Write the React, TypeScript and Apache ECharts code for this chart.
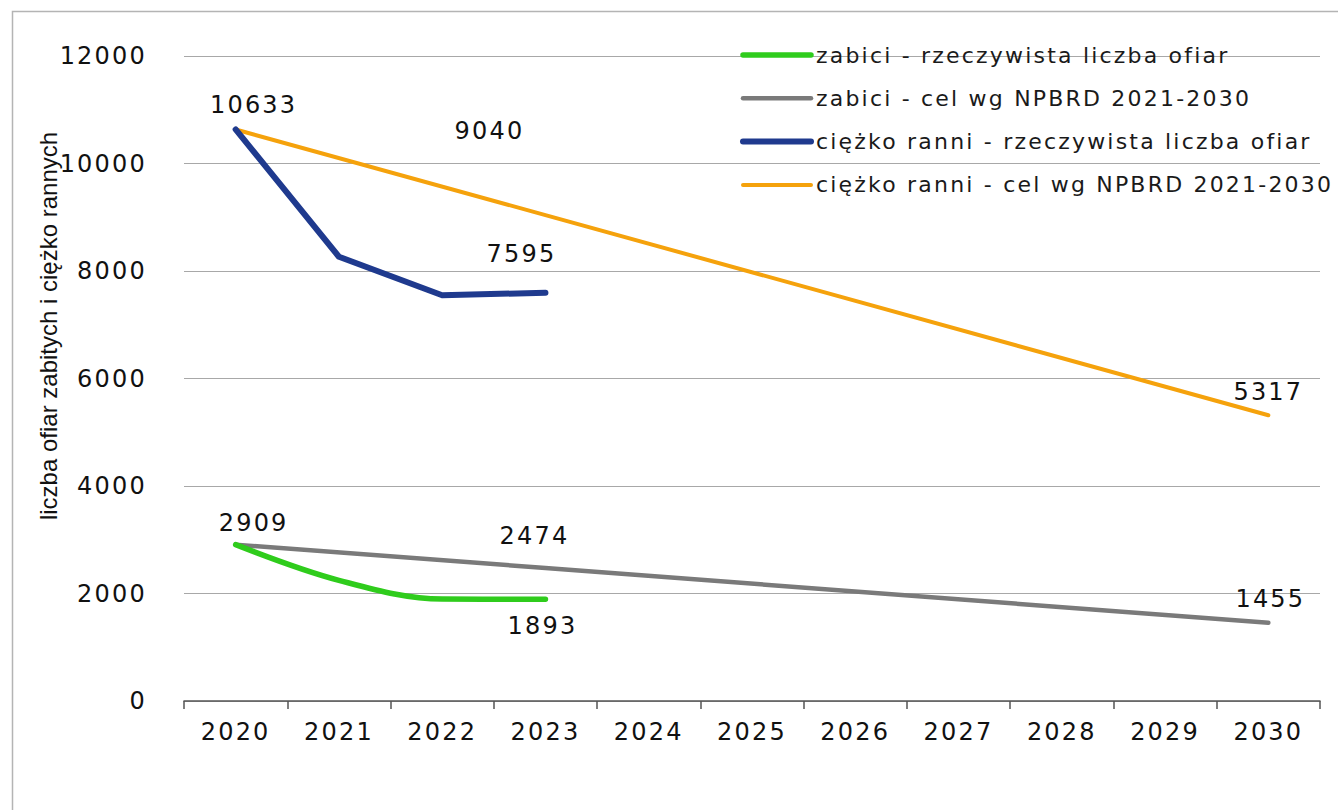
import React, { useEffect, useRef } from "react";
import * as echarts from "echarts";

const years = ["2020", "2021", "2022", "2023", "2024", "2025", "2026", "2027", "2028", "2029", "2030"];
const killedActual = [2909, 2245, 1896, 1893];
const killedTarget = [2909, null, null, 2474, null, null, null, null, null, null, 1455];
const injuredActual = [10633, 8265, 7550, 7595];
const injuredTarget = [10633, null, null, 9040, null, null, null, null, null, null, 5317];
const yTicks = { min: 0, max: 12000, interval: 2000 };

const seriesNames = {
  killedActual: "zabici - rzeczywista liczba ofiar",
  killedTarget: "zabici - cel wg NPBRD 2021-2030",
  injuredActual: "ciężko ranni - rzeczywista liczba ofiar",
  injuredTarget: "ciężko ranni - cel wg NPBRD 2021-2030",
};

// which points carry a value label, and where the label sits relative to the point
const labelPlacement: Record<string, Record<number, [number, number]>> = {
  killedActual: { 3: [-3, 27] },
  killedTarget: { 0: [18, -22], 3: [-11, -32], 10: [2, -24] },
  injuredActual: { 3: [-24, -39] },
  injuredTarget: { 0: [18, -24], 3: [-56, -84], 10: [0, -23] },
};

const styles = {
  killedActual: { color: "#2fcc1c", width: 5.5, smooth: 0.35 as any },
  killedTarget: { color: "#7a7a7a", width: 4.5, smooth: false as any },
  injuredActual: { color: "#1f3a8e", width: 6, smooth: false as any },
  injuredTarget: { color: "#f5a20c", width: 4, smooth: false as any },
};

const FONT = "DejaVu Sans";
const NUM_SIZE = 24;

function buildData(key: string, values: (number | null)[]) {
  const spots = labelPlacement[key] || {};
  return values.map((v, i) => {
    if (v == null) return null;
    const off = spots[i];
    if (!off) return v;
    return {
      value: v,
      label: {
        show: true,
        position: "inside",
        offset: off,
        fontFamily: FONT,
        fontSize: NUM_SIZE,
        color: "#111",
      },
    };
  });
}

export default function App() {
  const ref = useRef<HTMLDivElement>(null);

  useEffect(() => {
    if (!ref.current) return;
    const chart = echarts.init(ref.current, undefined, { renderer: "svg" });

    const mk = (key: string, values: (number | null)[], z: number) => {
      const s = (styles as any)[key];
      return {
        name: (seriesNames as any)[key],
        type: "line",
        data: buildData(key, values),
        connectNulls: true,
        smooth: s.smooth,
        symbol: "circle",
        symbolSize: 0.01,
        showSymbol: true,
        z,
        lineStyle: { color: s.color, width: s.width, cap: "round", join: "round" },
        itemStyle: { color: s.color },
        label: { show: false },
        emphasis: { disabled: true },
      };
    };

    const legendOrder = ["killedActual", "killedTarget", "injuredActual", "injuredTarget"];

    chart.setOption({
      animation: false,
      backgroundColor: "#ffffff",
      textStyle: { fontFamily: FONT },
      grid: {
        left: 184,
        right: 18,
        top: 56,
        bottom: 109,
        containLabel: false,
        outerBoundsMode: "none",
      },
      legend: {
        orient: "vertical",
        left: 735,
        top: 39,
        itemWidth: 68,
        itemHeight: 22,
        itemGap: 21.3,
        itemStyle: { opacity: 0 },
        textStyle: { fontFamily: FONT, fontSize: 22, color: "#1a1a1a", lineHeight: 22 },
        data: legendOrder.map((k) => ({
          name: (seriesNames as any)[k],
          itemStyle: { opacity: 0 },
          lineStyle: { color: (styles as any)[k].color, width: (styles as any)[k].width, cap: "round" },
        })),
        selectedMode: false,
      },
      xAxis: {
        type: "category",
        data: years,
        boundaryGap: true,
        axisLine: { show: true, lineStyle: { color: "#555", width: 1.5 } },
        axisTick: { show: true, length: 8, alignWithLabel: false, lineStyle: { color: "#555", width: 1.5 } },
        axisLabel: { interval: 0, margin: 19, fontFamily: FONT, fontSize: NUM_SIZE, color: "#111" },
        splitLine: { show: false },
      },
      yAxis: {
        type: "value",
        min: yTicks.min,
        max: yTicks.max,
        interval: yTicks.interval,
        axisLine: { show: false },
        axisTick: { show: false },
        axisLabel: {
          margin: 37,
          fontFamily: FONT,
          fontSize: NUM_SIZE,
          color: "#111",
          formatter: (v: number) => String(v),
        },
        splitLine: { show: true, lineStyle: { color: "#a8a8a8", width: 1 } },
      },
      graphic: [
        {
          type: "rect",
          shape: { x: 12.5, y: 11.5, width: 1400, height: 900 },
          style: { fill: "none", stroke: "#b4b4b4", lineWidth: 1.5 },
          silent: true,
          z: -10,
        },
        {
          type: "text",
          x: 48,
          y: 326,
          rotation: Math.PI / 2,
          style: {
            text: "liczba ofiar zabitych i ciężko rannych",
            fontFamily: "Liberation Sans",
            fontSize: 24,
            fill: "#111",
            align: "center",
            verticalAlign: "middle",
          },
          silent: true,
        },
      ],
      series: [
        mk("killedTarget", killedTarget, 2),
        mk("injuredTarget", injuredTarget, 2),
        mk("killedActual", killedActual, 3),
        mk("injuredActual", injuredActual, 3),
      ],
    });

    return () => chart.dispose();
  }, []);

  return (
    <>
      <style>{'#chart-box text[style*="DejaVu"]{letter-spacing:2.2px;}'}</style>
      <div
        id="chart-box"
        ref={ref}
        style={{ position: "absolute", left: 0, top: 0, width: 1338, height: 810 }}
      />
    </>
  );
}
